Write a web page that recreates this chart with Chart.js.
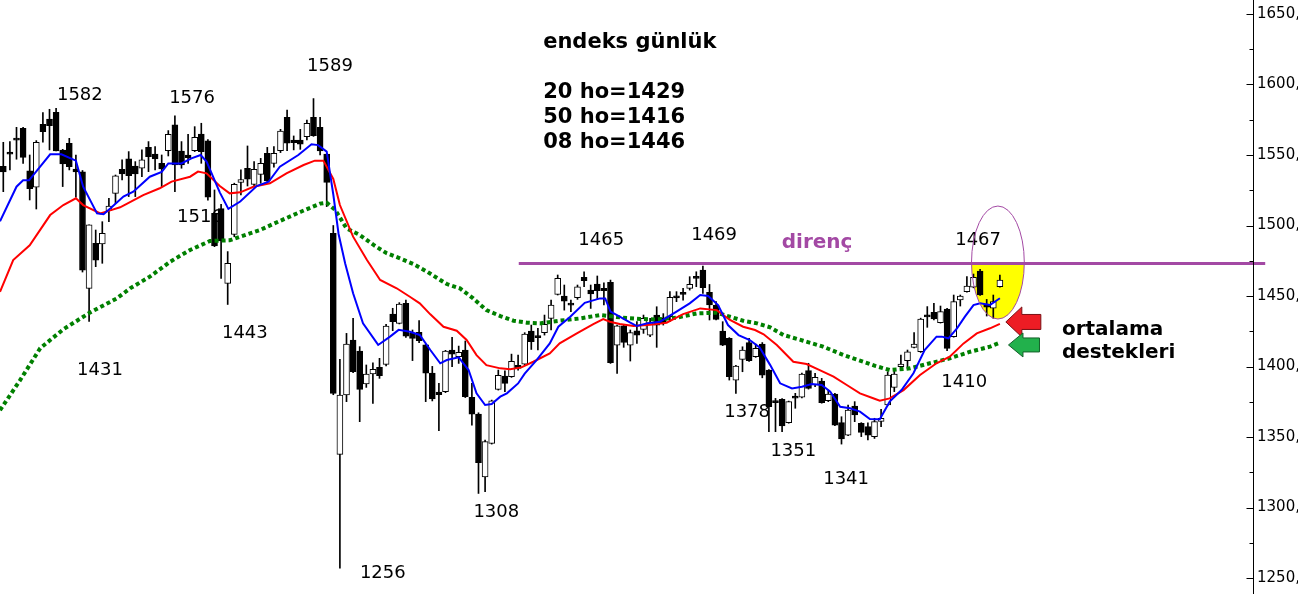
<!DOCTYPE html>
<html>
<head>
<meta charset="utf-8">
<script src="https://cdn.jsdelivr.net/npm/chart.js@4.4.0/dist/chart.umd.min.js"></script>
<style>
  html, body { margin: 0; padding: 0; background: #fff; overflow: hidden; }
</style>
</head>
<body>
<canvas id="chart" width="1298" height="594"></canvas>
<script>
// daily candles (index 0 = leftmost)
const opens = [1542,1552,1562,1568.9,1538.7,1527.1,1571.7,1575.5,1580.3,1553.5,
  1558.3,1540,1538,1455.4,1487.4,1486.9,1510.5,1522.8,1539.8,1547.2,
  1542.2,1540.6,1555.4,1550.7,1544.1,1553.1,1571.3,1552.8,1550,1553.1,
  1564.9,1560,1508.6,1512,1459,1493.7,1530.6,1540.6,1529.2,1536.3,
  1551.2,1544.1,1553.1,1576.7,1560.6,1560.6,1563,1576.7,1569.6,1550.7,
  1494.5,1337.7,1379.8,1418.8,1411,1387.6,1394.7,1399.4,1401.5,1437.2,
  1430.6,1444.8,1423.5,1424.2,1415.3,1395.4,1381.9,1382.1,1411.7,1407,
  1411.7,1378.1,1366.3,1321.8,1345.5,1383.8,1393.2,1392.8,1400.8,1401.7,
  1425.1,1422,1424,1434.1,1451.2,1450,1445,1448.8,1463.2,1454.2,
  1458.5,1455.4,1459.7,1415.2,1428.9,1415.2,1425.4,1426.3,1422.3,1436.5,
  1434.6,1435.3,1450.2,1452.6,1455.4,1464,1468.4,1452.6,1443.6,1425.1,
  1420,1390.4,1405.1,1416.9,1406.9,1416,1397.5,1375.8,1376.7,1360.2,
  1379,1378.2,1397.1,1386.9,1389.7,1375.8,1380.5,1360.2,1351.4,1372,
  1359.7,1357.4,1350.3,1361.1,1372.7,1385.2,1399.9,1404.2,1413.6,1410.5,
  1436.6,1438.4,1431.1,1440.8,1421.2,1447.2,1453.1,1456.2,1467.7,1444.1,
  1441.3,1456.6];
const highs = [1559,1559.5,1569.6,1569.6,1550,1560.2,1580,1582.4,1583,1554,
  1561.8,1550,1539,1500.4,1496.8,1502.7,1519.3,1535.8,1546.5,1552.4,
  1545.3,1553.6,1559.5,1555.9,1550,1567.3,1577.7,1559.5,1564.7,1570.1,
  1572.5,1561,1525.2,1515,1481.5,1530,1539.4,1556.4,1545.3,1547.6,
  1555.4,1555.9,1568.2,1581.9,1563.5,1568.2,1574.8,1590,1576.7,1551,
  1500,1405.1,1423.5,1434.2,1414.1,1401.1,1402.7,1405.8,1430,1441.3,
  1445.3,1447.2,1425.9,1432.5,1415.8,1400.1,1388,1411.5,1420.7,1414.5,
  1418.1,1388,1367.2,1347.9,1376.2,1397.5,1397,1408.8,1408.1,1424,
  1429.4,1427,1436.5,1447.1,1464.9,1457.8,1447.1,1457.8,1467.2,1457.8,
  1464.2,1459.4,1461.3,1429.4,1429.4,1425.9,1431.8,1436.5,1434.1,1442.4,
  1437.5,1453.1,1453.1,1455.4,1463.7,1467.2,1471.3,1458.2,1446,1431.8,
  1420.5,1400.8,1414,1420,1415.9,1417,1397.9,1377.4,1377.2,1375.5,
  1381,1395.3,1402.3,1395.2,1391.6,1383.4,1381,1364.4,1372.7,1375.1,
  1360.2,1360,1363.3,1369.6,1396.3,1398.7,1408.2,1411.7,1424,1434.3,
  1442.5,1444.8,1442.9,1441.2,1450.7,1450.7,1463.7,1465.6,1468.9,1447.6,
  1450.7,1464.9];
const lows = [1524,1539.4,1547,1544.1,1518.1,1511.7,1559,1553.6,1552.8,1527.6,
  1539.4,1520,1467,1432,1470.8,1473.2,1502.7,1515.7,1532.3,1520.5,
  1520.5,1534.6,1538.2,1539.4,1527.5,1549.3,1524,1540.6,1544.1,1552.4,
  1544.1,1518,1485,1462.5,1444,1492,1521.6,1528,1528,1529.9,
  1531,1541.3,1551.7,1553.1,1553.6,1554,1560.6,1563.2,1550,1513.4,
  1380,1257,1375.1,1395.6,1360.9,1385.2,1373.9,1391.6,1400.5,1425.4,
  1430.2,1420.7,1404.2,1416.9,1375.1,1375.6,1354.5,1381.5,1399.9,1402.2,
  1378,1358.5,1310,1311.2,1345,1383.3,1382.1,1392.3,1397.5,1401.2,
  1412.1,1411.7,1422.3,1425.9,1450.7,1440,1438.9,1447.6,1456.6,1441.2,
  1447.6,1443.6,1402.2,1395.1,1413.6,1403.9,1416.4,1423.5,1421.1,1413.6,
  1429.4,1431.8,1446,1447.1,1454.2,1456.6,1451.9,1433,1433,1414.8,
  1390.4,1380.9,1396.3,1403.6,1406.5,1392,1353.8,1353.8,1353.8,1359.8,
  1370.4,1377.8,1384,1385.7,1374,1375.1,1358,1345,1351,1360.9,
  1350.3,1347.9,1349,1357.4,1372.5,1382.2,1397.1,1398.7,1413.2,1410,
  1427.8,1433,1430.8,1411.2,1420.8,1442.9,1452.8,1455.8,1450.4,1435.8,
  1434.2,1456.2];
const closes = [1538,1550.5,1560.5,1548.3,1526.1,1559,1566.5,1570.8,1552.8,1543.6,
  1541.7,1538,1468.4,1500.4,1475.5,1494.4,1513.8,1535.3,1536.5,1535.4,
  1536.5,1546.5,1548.8,1547.2,1540.1,1564.7,1542.9,1542.9,1548.1,1562.5,
  1552.4,1520,1485.5,1489,1473.2,1529.2,1532.6,1532.8,1539.8,1544.1,
  1531.6,1551.2,1567,1558.3,1558.7,1557.6,1572.5,1563.7,1552.8,1530.6,
  1381,1379.8,1416,1396.4,1383.8,1394.7,1398,1393.5,1428.7,1431.8,
  1444.3,1421.6,1420,1418.3,1395.2,1377,1380,1411,1408.8,1410,
  1378.6,1366.3,1331.8,1346.7,1375.7,1393.7,1388,1403.6,1398.7,1423,
  1417.6,1420.5,1429.9,1443.6,1462.5,1446.4,1443.5,1456.6,1460.9,1451.4,
  1453.8,1453.8,1402.8,1428.9,1417.1,1424,1422.3,1434.1,1431.1,1429.4,
  1431,1449,1448.7,1451.1,1458.2,1462.5,1455.9,1443.6,1433.4,1415.2,
  1392.8,1400.3,1411.7,1404.1,1412.9,1393.8,1371.5,1374.3,1357.8,1375.1,
  1377.5,1394.7,1384.5,1392.3,1374.4,1380.5,1358.5,1348.6,1369.2,1365.6,
  1353.3,1351.4,1360.9,1363.3,1394,1394.7,1401.8,1410.5,1416,1433.7,
  1435.1,1433.7,1438.9,1412.9,1446,1450,1457.1,1463.2,1450.7,1442,
  1446,1461.3];

// moving averages at candle positions
const ma8X = [-0.5,2,3,3.9,7.1,8.8,11,12.1,14.2,15.2,16.2,18.2,19.7,22.2,24,25,27,28.5,29.9,30.8,
  32.8,34.1,35.9,38.4,40.2,41.9,44.7,46.7,47.7,49,50,50.8,51.8,53,54.5,56.8,58.6,59.9,61.6,63.1,
  64.7,66.2,67.2,69,70.5,71.7,73,74,75.3,76.3,78,79,80.8,82.8,84.1,85.9,88.1,90.4,91.2,92,
  93.4,95,96,97.5,99.5,102,104,105.6,106.8,108.3,109.8,111.4,113.1,114.6,116.2,117.7,119.5,121,122.5,124,
  125.3,126.8,128.3,129.8,131.3,132.8,134.3,136.1,137.9,139.6,141.4,142.2,143.2,144.5,145.7,147,148,149.5,151];
const ma8 = [1503,1527.5,1532,1532,1550.5,1550.5,1546,1527.5,1508.6,1508,1512,1520.5,1524,1534.6,1538,1544,1544,1547.6,1550,1545.3,
  1523.5,1511.8,1517,1528,1531,1541.7,1550,1557.6,1557,1552.4,1522,1494,1473,1452,1430.6,1415.3,1421.2,1426,1424.7,1422.4,
  1411.7,1402.3,1404.6,1406.5,1397.5,1381,1372.7,1373.4,1378.6,1381,1388,1395,1404.6,1416.4,1428.2,1435.3,1445.2,1448.3,1448.3,1438.9,
  1435.3,1431.1,1428.7,1430.6,1431.8,1438.9,1444.8,1450.7,1450,1443.6,1429.4,1422.3,1418.8,1413.5,1401,1388.1,1384.5,1385.7,1387.6,1386.9,
  1382.2,1371.5,1370.4,1368,1362.7,1362.6,1375.1,1383.3,1395.2,1411.7,1421.2,1421.2,1420,1427.1,1435.4,1443.6,1444.8,1443.6,1448.4];

const ma20X = [-0.5,1.5,4,7.1,9.1,11,12.1,14.7,16.2,17.7,18.7,21.2,23.7,25.5,28.3,29.5,30.8,32.8,34.3,35.9,
  37.9,40.4,42.9,45.5,47.2,48.5,50,51,53,55.1,57.1,59.6,61.6,63.1,64.7,66.7,68.7,70.2,71.7,73.2,
  75.3,76.8,78.5,80.3,82.8,84.3,86.9,89.4,90.9,91.9,93.4,95.5,98,100.5,103,105.6,108.1,110.1,112.1,113.9,
  115.2,117.2,119.7,121.7,123.7,125.8,127.8,129.8,131.8,132.8,134.3,136.4,138.9,141.4,143.4,145.5,147.5,149.5,151];
const ma20 = [1453,1475.5,1486,1507.4,1514.5,1519.3,1514.5,1508.6,1510.7,1512.9,1515.3,1521.6,1526.4,1531.1,1534.6,1538.2,1537,1528,1522.8,1523.5,
  1527.5,1529.9,1537,1542.9,1546,1546,1533,1514.5,1492.1,1475.5,1461.4,1455.5,1449.5,1444.8,1437,1428.2,1425.4,1418.8,1408.1,1401,
  1398.7,1398,1399.4,1403.4,1409.3,1416.4,1423.5,1430.1,1433.7,1431.8,1430.1,1428.7,1429.7,1431.1,1437.2,1441.2,1440,1433,1428.2,1425.9,
  1422.9,1415.3,1403.4,1401.8,1397.5,1392.8,1386.9,1381,1377.5,1375.7,1377.4,1383.3,1394,1402.3,1407,1416.4,1423.5,1427.1,1430.2];

const ma50X = [-0.5,2.5,5.6,9.1,13.1,17.2,19.2,22.2,25.3,28.3,31.3,34.3,35.9,38.9,41.9,45,48,49,50.3,52,
  54,56.1,58.1,60.1,62.1,64.2,66.2,67.2,69.2,71.2,73.2,75.3,77.3,79.3,81.3,84.3,87.4,90.4,93.9,96.5,
  99,102,105.1,108.1,110.1,112.1,114.2,116.2,118.2,121.2,124.2,127.3,129.8,132.1,134.3,137.4,140.4,143.4,146.5,149.5,151];
const ma50 = [1369,1390,1413,1426.4,1438.2,1448.3,1455.4,1463.7,1474.4,1482.6,1489,1489.5,1492.1,1496.8,1503.2,1509.6,1515.5,1516.2,1511,1498,
  1493.3,1486.2,1480.3,1476.7,1472.7,1467.3,1461.4,1458.5,1455.4,1448.3,1440,1435.8,1432.5,1431.1,1430.6,1432.5,1434.1,1436.5,1434.6,1433.7,
  1433.4,1434.6,1437.7,1438.2,1435.3,1432.5,1430.6,1427.8,1422.4,1418.3,1414.1,1408.2,1404.2,1400.5,1397.5,1398.7,1402.3,1405.8,1410.5,1414.1,1416.9];

// price notes placed at (candle index, price)
const noteText = ['1582','1576','1589','1516','1443','1431','1256','1308','1465','1469','1378','1351','1341','1410','1467'];
const noteX = [11.6,28.6,49.5,29.8,36.6,14.65,57.5,74.7,90.6,107.7,112.7,119.7,127.7,145.6,147.7];
const noteY = [1592.6,1590.4,1613.1,1506,1423.8,1397.5,1253.5,1296.8,1489.7,1493.3,1367.7,1340.1,1320.2,1389,1489.7];

const headerLines = ['endeks günlük', '', '20 ho=1429', '50 ho=1416', '08 ho=1446'];
const resistance = 1473;

const purple = '#a349a4';

const annotations = {
  id: 'annotations',
  beforeDatasetsDraw(chart) {
    const {ctx, scales: {x, y}} = chart;
    // yellow part of the circle under the resistance line
    const ex1 = x.getPixelForValue(146.7), ex2 = x.getPixelForValue(154.7);
    const ey1 = y.getPixelForValue(1513.8), ey2 = y.getPixelForValue(1433.7);
    const lineY = y.getPixelForValue(resistance);
    ctx.save();
    ctx.beginPath();
    ctx.rect(ex1 - 2, lineY, ex2 - ex1 + 4, ey2 - lineY + 2);
    ctx.clip();
    ctx.beginPath();
    ctx.ellipse((ex1 + ex2) / 2, (ey1 + ey2) / 2, (ex2 - ex1) / 2, (ey2 - ey1) / 2, 0, 0, Math.PI * 2);
    ctx.fillStyle = '#ffff00';
    ctx.fill();
    ctx.restore();

    ctx.save();
    ctx.fillStyle = '#000';
    ctx.font = "18px 'DejaVu Sans'";
    ctx.textAlign = 'center';
    ctx.textBaseline = 'middle';
    noteText.forEach((t, i) => ctx.fillText(t, x.getPixelForValue(noteX[i]), y.getPixelForValue(noteY[i])));

    ctx.font = "bold 21px 'DejaVu Sans'";
    ctx.textAlign = 'left';
    const hx = x.getPixelForValue(81.8);
    const hy = y.getPixelForValue(1629.4);
    headerLines.forEach((t, i) => ctx.fillText(t, hx, hy + i * 25));
    ctx.restore();
  },
  afterDatasetsDraw(chart) {
    const {ctx, scales: {x, y}} = chart;
    ctx.save();
    // resistance line
    const lineY = y.getPixelForValue(resistance);
    ctx.strokeStyle = purple;
    ctx.lineWidth = 3;
    ctx.beginPath();
    ctx.moveTo(x.getPixelForValue(78.1), lineY);
    ctx.lineTo(x.getPixelForValue(191.2), lineY);
    ctx.stroke();

    ctx.fillStyle = purple;
    ctx.font = "bold 20px 'DejaVu Sans'";
    ctx.textAlign = 'center';
    ctx.textBaseline = 'middle';
    ctx.fillText('direnç', x.getPixelForValue(123.3), y.getPixelForValue(1487.6));

    // circle outline
    const ex1 = x.getPixelForValue(146.7), ex2 = x.getPixelForValue(154.7);
    const ey1 = y.getPixelForValue(1513.8), ey2 = y.getPixelForValue(1433.7);
    ctx.lineWidth = 1;
    ctx.beginPath();
    ctx.ellipse((ex1 + ex2) / 2, (ey1 + ey2) / 2, (ex2 - ex1) / 2, (ey2 - ey1) / 2, 0, 0, Math.PI * 2);
    ctx.stroke();

    // support arrows
    const arrow = (tx, ty, hl, hh, sh, len, fill, edge) => {
      ctx.beginPath();
      ctx.moveTo(tx, ty);
      ctx.lineTo(tx + hl, ty - hh);
      ctx.lineTo(tx + hl, ty - sh);
      ctx.lineTo(tx + len, ty - sh);
      ctx.lineTo(tx + len, ty + sh);
      ctx.lineTo(tx + hl, ty + sh);
      ctx.lineTo(tx + hl, ty + hh);
      ctx.closePath();
      ctx.fillStyle = fill;
      ctx.fill();
      ctx.strokeStyle = edge;
      ctx.lineWidth = 1;
      ctx.stroke();
    };
    arrow(x.getPixelForValue(151.9), y.getPixelForValue(1431.6), 16, 15, 7.5, 35, '#ed1c24', '#7a1014');
    arrow(x.getPixelForValue(152.3), y.getPixelForValue(1415.3), 14.5, 12, 7, 31, '#22b14c', '#14602a');

    ctx.fillStyle = '#000';
    ctx.font = "bold 20px 'DejaVu Sans'";
    ctx.textAlign = 'left';
    ctx.textBaseline = 'alphabetic';
    ctx.fillText('ortalama', x.getPixelForValue(160.4), y.getPixelForValue(1422.3));
    ctx.fillText('destekleri', x.getPixelForValue(160.4), y.getPixelForValue(1406));
    ctx.restore();
  },
  afterDraw(chart) {
    // price axis: line plus inward ticks
    const {ctx, chartArea, scales: {y}} = chart;
    const ax = Math.round(chartArea.right) + 0.5;
    ctx.save();
    ctx.strokeStyle = '#000';
    ctx.lineWidth = 1;
    ctx.beginPath();
    ctx.moveTo(ax, 0);
    ctx.lineTo(ax, chart.height);
    y.ticks.forEach(t => {
      const py = Math.round(y.getPixelForValue(t.value)) + 0.5;
      const len = t.value % 50 === 0 ? 7 : 4;
      ctx.moveTo(ax - len, py);
      ctx.lineTo(ax, py);
    });
    ctx.stroke();
    ctx.restore();
  }
};

new Chart(document.getElementById('chart'), {
  type: 'bar',
  data: {
    datasets: [
      {
        type: 'line', label: '8',
        data: ma8X.map((v, i) => ({x: v, y: ma8[i]})),
        borderColor: '#0000ff', borderWidth: 2, pointRadius: 0, tension: 0
      },
      {
        type: 'line', label: '20',
        data: ma20X.map((v, i) => ({x: v, y: ma20[i]})),
        borderColor: '#ff0000', borderWidth: 2, pointRadius: 0, tension: 0
      },
      {
        type: 'line', label: '50',
        data: ma50X.map((v, i) => ({x: v, y: ma50[i]})),
        borderColor: '#008000', borderWidth: 4, borderDash: [4, 3], borderCapStyle: 'butt',
        pointRadius: 0, tension: 0
      },
      {
        label: 'body',
        data: opens.map((o, i) => ({x: i, y: [o, closes[i]]})),
        backgroundColor: opens.map((o, i) => closes[i] >= o ? '#ffffff' : '#000000'),
        borderColor: '#000', borderWidth: 1, borderSkipped: false,
        barThickness: 6, grouped: false
      },
      {
        label: 'wick',
        data: lows.map((l, i) => ({x: i, y: [l, highs[i]]})),
        backgroundColor: '#000', borderWidth: 0,
        barThickness: 1, grouped: false
      }
    ]
  },
  options: {
    responsive: false,
    animation: false,
    devicePixelRatio: 1,
    layout: { padding: 0 },
    plugins: { legend: { display: false }, tooltip: { enabled: false } },
    scales: {
      x: { type: 'linear', display: false, offset: false, min: -0.5, max: 189.35 },
      y: {
        position: 'right',
        min: 1238.7, max: 1659.9,
        grid: { display: false, drawTicks: false },
        border: { display: false },
        ticks: {
          stepSize: 25, includeBounds: false, autoSkip: false, padding: 4,
          color: '#000', font: { family: 'DejaVu Sans', size: 15 },
          callback: v => v % 50 === 0 ? v + ',00' : ''
        },
        afterFit: s => { s.width = 45; s.paddingTop = 0; s.paddingBottom = 0; }
      }
    }
  },
  plugins: [annotations]
});
</script>
</body>
</html>
